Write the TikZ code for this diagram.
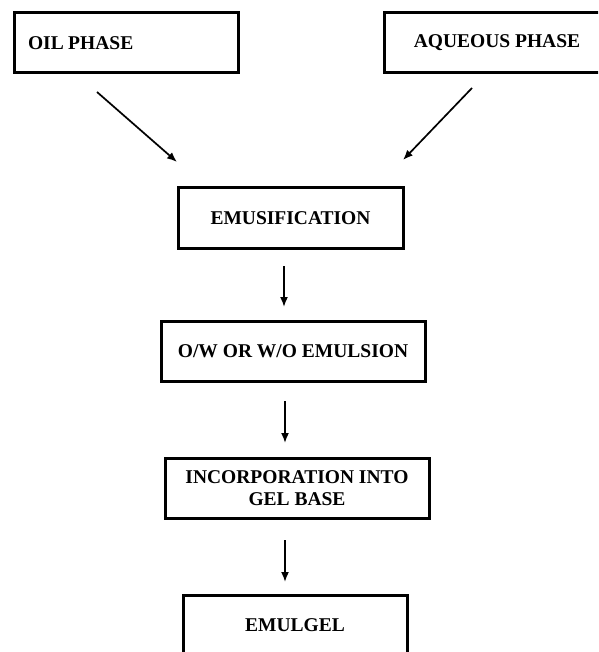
\documentclass[tikz,border=0pt]{standalone}
\usepackage{fontspec}
\setmainfont{Liberation Serif}
\usepackage{tikz}
\usetikzlibrary{arrows.meta}
\usetikzlibrary{positioning}

\tikzset{
  stagebox/.style={draw, line width=3pt, minimum height=60pt,
    font=\fontsize{19.5}{22}\selectfont\bfseries, align=center, inner sep=2pt},
  flow/.style={-{Latex[length=10pt,width=8pt]}, line width=1.7pt}
}

\begin{document}
\begin{tikzpicture}[x=1pt, y=-1pt]

    \useasboundingbox (0, 0) rectangle (598, 652);
    \clip (0, 0) rectangle (598, 652);

    \node [stagebox, minimum width=224pt, text width=196pt, align=left,
      inner xsep=14pt] (oil) at (126, 43) {OIL\hspace{-2pt} PHASE};
    \node [stagebox, minimum width=226pt] (aqueous) at (497, 43) {AQUEOUS PHASE};

    \node [stagebox, minimum width=225pt] (emusification) at (290.5, 218) {EMUSIFICATION};
    \node [stagebox, minimum width=264pt] (emulsion) at (293, 351) {O/W OR W/O EMULSION};
    \node [stagebox, minimum width=264pt] (gelbase) at (297, 488)
      {INCORPORATION INTO\\GEL BASE};
    \node [stagebox, minimum width=224pt] (emulgel) at (295, 625) {EMULGEL};

    % free-standing arrows between the stages
    \coordinate (oilout) at (97, 92);
    \coordinate (oilin) at (177, 162);
    \coordinate (aqout) at (472, 88);
    \coordinate (aqin) at (403, 160);
    \coordinate (emuout) at (284, 266);
    \coordinate (emuin) at (284, 307);
    \coordinate (emlout) at (285, 401);
    \coordinate (emlin) at (285, 443);
    \coordinate (gelout) at (285, 540);
    \coordinate (gelin) at (285, 582);

    \draw [flow] (oilout) -- (oilin);
    \draw [flow] (aqout) -- (aqin);
    \draw [flow] (emuout) -- (emuin);
    \draw [flow] (emlout) -- (emlin);
    \draw [flow] (gelout) -- (gelin);

  \end{tikzpicture}
\end{document}
